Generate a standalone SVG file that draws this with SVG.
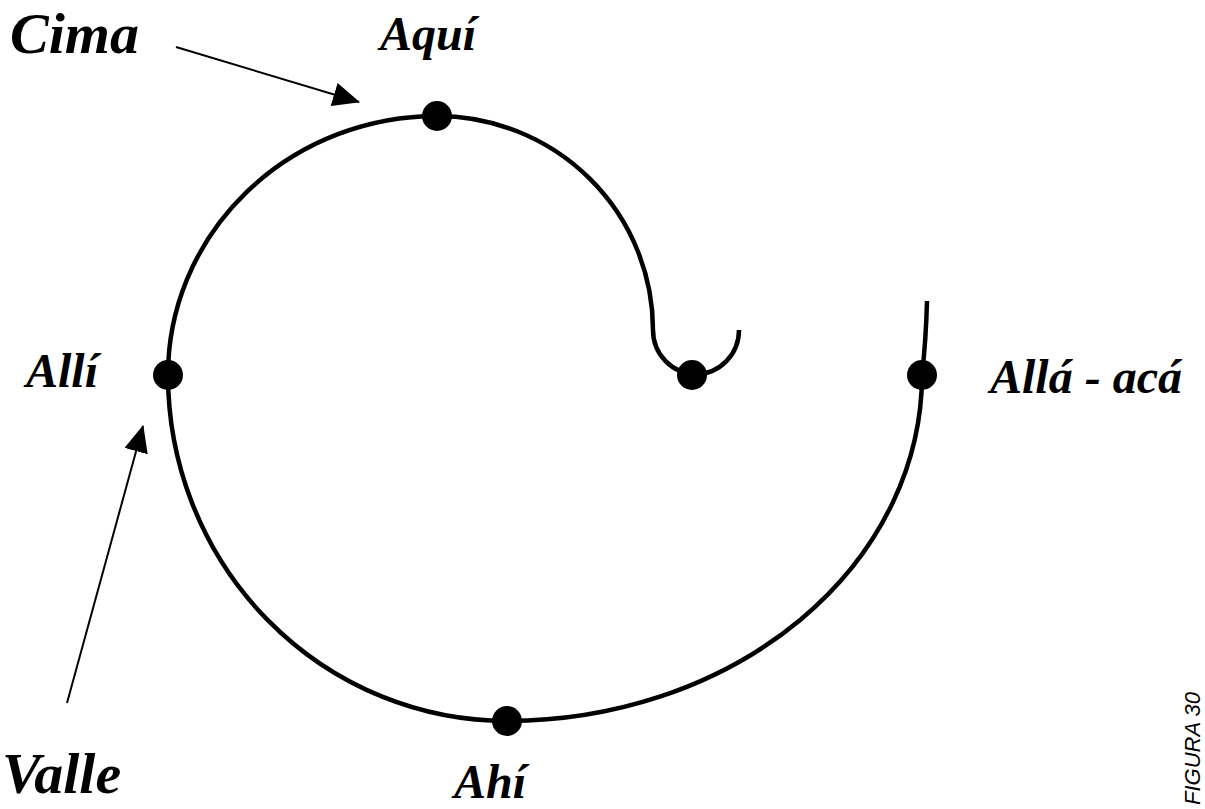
<svg xmlns="http://www.w3.org/2000/svg" width="1205" height="809" viewBox="0 0 1205 809">
  <style>
    .lbl { font-family: "Liberation Serif", "Times New Roman", serif; font-weight: bold; font-style: italic; fill: #000; }
    .big { font-size: 58px; }
    .mid { font-size: 48px; }
    .fig { font-family: "Liberation Sans", Arial, sans-serif; font-style: italic; font-size: 22px; fill: #000; }
    .spiral { fill: none; stroke: #000; stroke-width: 4.5; }
    .arrow { fill: none; stroke: #000; stroke-width: 2; }
    .dot { fill: #000; }
  </style>
  <defs>
    <marker id="ah" markerUnits="userSpaceOnUse" markerWidth="27" markerHeight="24" refX="26" refY="12" orient="auto" viewBox="0 0 27 24">
      <path d="M0,0 L27,12 L0,24 Z" fill="#000"/>
    </marker>
  </defs>
  <g id="connectors">
    <path id="spiral" class="spiral" d="M 927 301 Q 926 340 922 375 A 415 346 0 0 1 507 721 A 339 346 0 0 1 168 375 A 269 259 0 0 1 437 116 A 216 214 0 0 1 653 330 A 43 44 0 0 0 739 330"/>
    <line id="arrow-cima" class="arrow" x1="176" y1="47" x2="359" y2="102" marker-end="url(#ah)"/>
    <line id="arrow-valle" class="arrow" x1="67" y1="703" x2="143" y2="426" marker-end="url(#ah)"/>
  </g>
  <g id="node-aqui">
    <circle class="dot" cx="437" cy="116" r="15"/>
    <text class="lbl mid" x="380" y="50">Aquí</text>
  </g>
  <g id="node-alli">
    <circle class="dot" cx="168" cy="375" r="15"/>
    <text class="lbl mid" x="26" y="387">Allí</text>
  </g>
  <g id="node-ahi">
    <circle class="dot" cx="507" cy="721" r="15"/>
    <text class="lbl mid" x="454" y="798">Ahí</text>
  </g>
  <g id="node-alla">
    <circle class="dot" cx="922" cy="375" r="15"/>
    <text class="lbl mid" x="990" y="393">Allá - acá</text>
  </g>
  <g id="node-inner">
    <circle class="dot" cx="692" cy="375" r="15"/>
  </g>
  <g id="label-cima">
    <text class="lbl big" x="10" y="53">Cima</text>
  </g>
  <g id="label-valle">
    <text class="lbl big" x="2" y="793">Valle</text>
  </g>
  <g id="caption">
    <text class="fig" transform="translate(1200,805) rotate(-90)">FIGURA 30</text>
  </g>
</svg>
